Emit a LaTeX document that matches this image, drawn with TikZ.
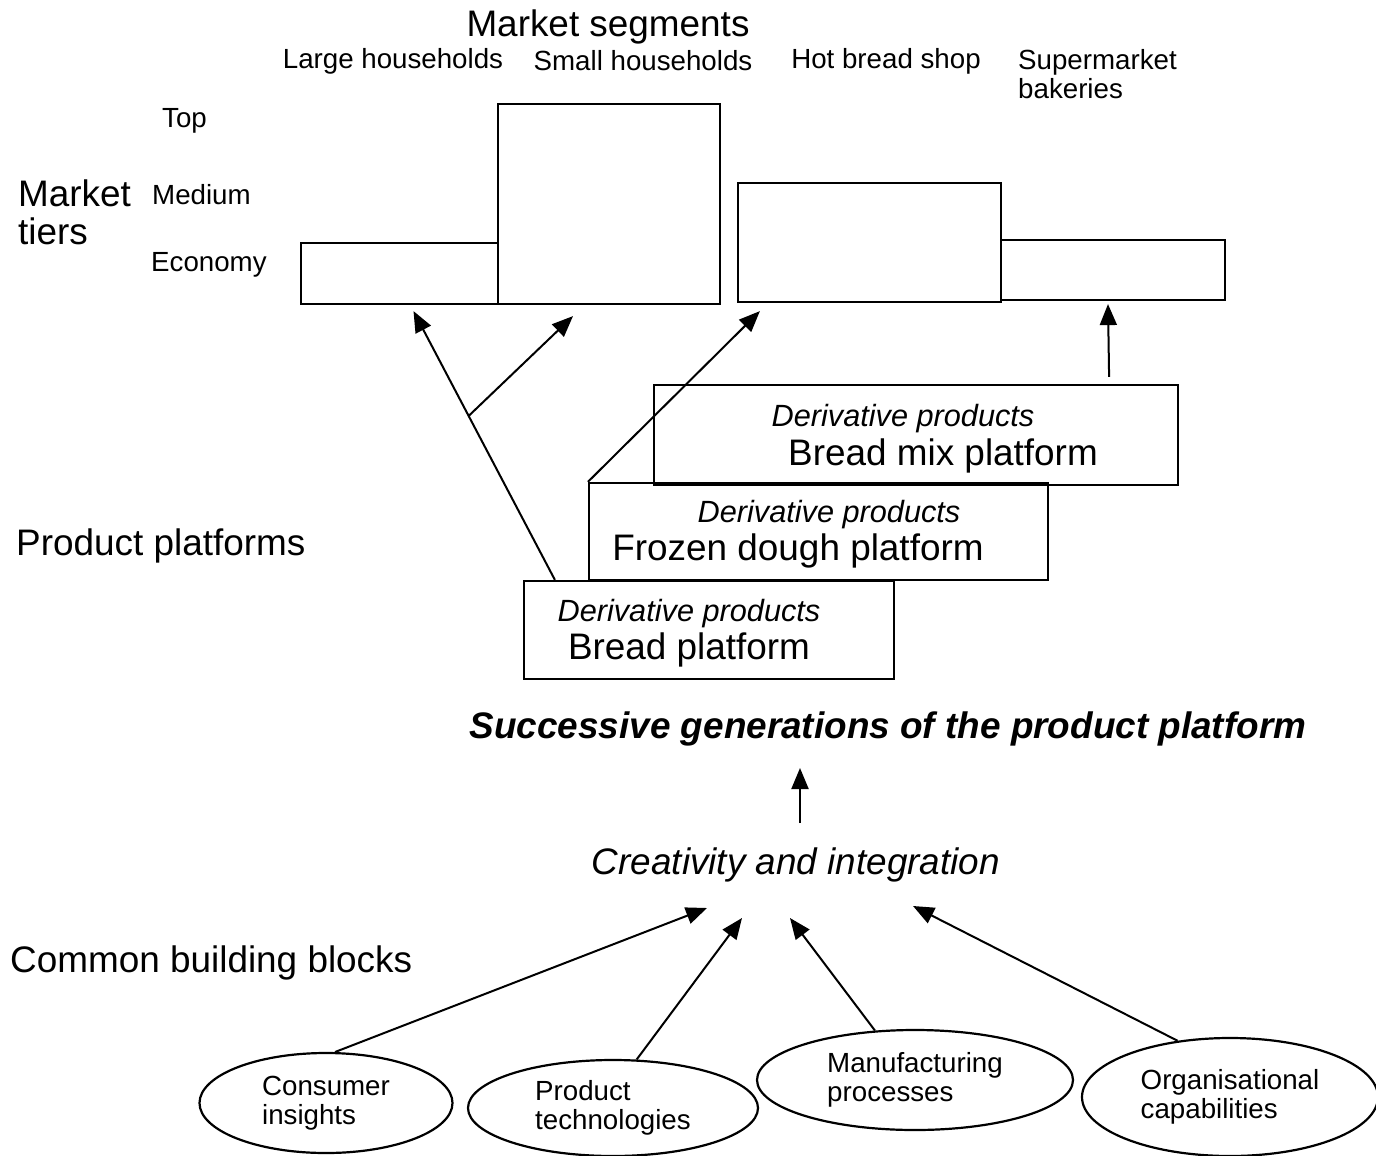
\documentclass[tikz,border=0pt]{standalone}
\usepackage{fontspec}
\setmainfont{Liberation Sans}
\usetikzlibrary{arrows.meta,shapes.geometric,calc}

\tikzset{
  lbl/.style={font=\fontsize{27.7pt}{29pt}\selectfont, inner sep=0pt, yshift=-3pt},
  big/.style={font=\fontsize{36.9pt}{38pt}\selectfont, inner sep=0pt, yshift=-3pt},
  der/.style={font=\fontsize{30.7pt}{32pt}\selectfont\itshape, inner sep=0pt, yshift=-3pt},
  bar/.style={draw, line width=2.2pt, inner sep=0pt},
  blk/.style={draw, ellipse, line width=2.2pt, inner sep=0pt, align=left,
    font=\fontsize{27.7pt}{29pt}\selectfont},
  arr/.style={-{Triangle[length=21pt,width=17pt]}, line width=2pt}
}

\begin{document}
\begin{tikzpicture}[x=1pt,y=-1pt]
\useasboundingbox (0,0) rectangle (1376,1156);

% headings
\node[big] (seg) at (608,24) {Market segments};
\foreach \x/\t/\n in {393/Large households/lg,643/Small households/sm,886/Hot bread shop/hs}{
	\node[lbl] (\n) at (\x,58) {\t};
}
\node[lbl, anchor=west, align=left] (sup) at (1018,71) {Supermarket\\bakeries};
\node[lbl, anchor=west] (top) at (162,118) {Top};
\node[lbl, anchor=west] (med) at (152,192) {Medium};
\node[lbl, anchor=west] (eco) at (151,262) {Economy};
\node[big, anchor=west, align=left, font=\fontsize{36.9pt}{38pt}\selectfont] (tiers) at (18,209) {Market\\tiers};
\node[big, anchor=west] (pp) at (16,543) {Product platforms};
\node[big, anchor=west] (cbb) at (10,960) {Common building blocks};

% market bars
\node[bar, minimum width=197pt, minimum height=61pt] (lh) at (399.5,273.5) {};
\node[bar, minimum width=222pt, minimum height=200pt] (sh) at (609,204) {};
\node[bar, minimum width=263pt, minimum height=119pt] (hb) at (869.5,242.5) {};
\node[bar, minimum width=224pt, minimum height=60pt] (sb) at (1113,270) {};

% platforms
\node[bar, minimum width=524pt, minimum height=100pt] (bm) at (916,435) {};
\node[bar, minimum width=459pt, minimum height=97pt] (fd) at (818.5,531.5) {};
\node[bar, minimum width=370pt, minimum height=98pt] (bp) at (709,630) {};
\node[der] (bmd) at (903,416) {Derivative products};
\node[big] (bmt) at (943,453) {Bread mix platform};
\node[der] (fdd) at (829,512) {Derivative products};
\node[big] (fdt) at (798,548) {Frozen dough platform};
\node[der] (bpd) at (689,611) {Derivative products};
\node[big] (bpt) at (689,647) {Bread platform};

\node[big, font=\fontsize{36.9pt}{38pt}\selectfont\bfseries\itshape] (sg) at (888,726) {Successive generations of the product platform};
\node[big, font=\fontsize{36.9pt}{38pt}\selectfont\itshape] (cr) at (796,862) {Creativity and integration};

% building blocks
\node[blk, minimum width=253pt, minimum height=100pt] (ci) at (326,1103) {Consumer\\insights};
\node[blk, minimum width=290pt, minimum height=96pt] (pt) at (613,1108) {Product\\technologies};
\node[blk, minimum width=316pt, minimum height=100pt] (mp) at (915,1080) {Manufacturing\\processes};
\node[blk, minimum width=296pt, minimum height=118pt] (oc) at (1230,1097) {Organisational\\capabilities};

% arrows
\draw[arr] ($(bp.north west)+(32,0)$) -- coordinate[pos=0.61] (br) ($(lh.south)+(14,6)$);
\draw[arr] (br) -- ($(sh.south)+(-36,11)$);
\draw[arr] (fd.north west) -- ($(hb.south west)+(23,8)$);
\draw[arr] ($(bm.north east)+(-70,-7)$) -- ($(sb.south)+(-5,3)$);
\draw[arr] ($(cr)+(4,-42)$) -- ($(sg)+(-88,39)$);
\draw[arr] (ci.80) -- ($(cr)+(-89,43)$);
\draw[arr] (pt.64) -- ($(cr)+(-54,53)$);
\draw[arr] (mp.129) -- ($(cr)+(-6,53)$);
\draw[arr] (oc.133) -- ($(cr)+(117,41)$);
\end{tikzpicture}
\end{document}
